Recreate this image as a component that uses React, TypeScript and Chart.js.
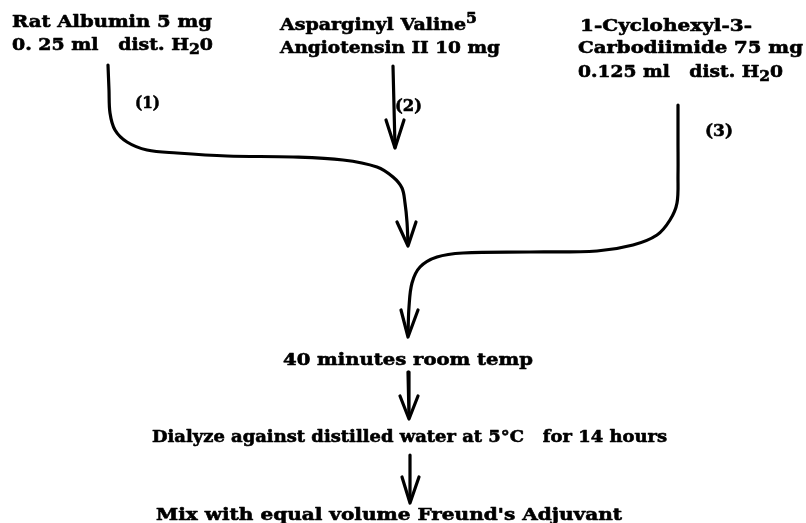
import React, { useEffect, useRef } from "react";
import { Chart, registerables } from "chart.js";
Chart.register(...registerables);

const W = 806;
const H = 523;

// Flow path 1: Rat Albumin -> mixing point
const path1X = [108, 109, 110, 115, 127, 147, 177, 227, 293, 343, 377, 393, 402, 405, 407, 408];
const path1Y = [65, 90, 113, 130, 142, 150, 153, 156, 157, 160, 167, 177, 188, 203, 222, 244];
// Flow path 2: Angiotensin (straight)
const path2X = [393, 395];
const path2Y = [66, 147];
// Flow path 3: Carbodiimide -> reaction
const path3X = [678, 678, 678, 677, 670, 657, 633, 597, 530, 463, 437, 420, 412, 409, 408];
const path3Y = [105, 140, 175, 203, 220, 235, 245, 251, 252, 253, 257, 267, 283, 307, 335];
// Lower straight steps
const step1X = [408, 409];
const step1Y = [372, 417];
const step2X = [410, 410];
const step2Y = [455, 501];

// Arrow heads: [left arm, tip, right arm]
const head1X = [397, 408, 416];
const head1Y = [222, 246, 222];
const head2X = [386, 395, 404];
const head2Y = [120, 148, 120];
const head3X = [401, 408, 418];
const head3Y = [310, 337, 310];
const head4X = [400, 409, 418];
const head4Y = [396, 419, 396];
const head5X = [402, 410, 419];
const head5Y = [477, 503, 477];

// Text content
const labelTexts = [
  "Rat Albumin 5 mg",
  "0. 25 ml   dist. H_{2}0",
  "Asparginyl Valine^{5}",
  "Angiotensin II 10 mg",
  "1-Cyclohexyl-3-",
  "Carbodiimide 75 mg",
  "0.125 ml   dist. H_{2}0",
  "(1)",
  "(2)",
  "(3)",
  "40 minutes room temp",
  "Dialyze against distilled water at 5°C   for 14 hours",
  "Mix with equal volume Freund's Adjuvant",
];
// Layout: left x, baseline y, target width (diagram units)
const labelX = [12, 12, 280, 280, 580, 578, 578, 135, 395, 705, 283, 152, 156];
const labelY = [27, 50, 30, 53, 31, 53, 77, 108, 111, 136, 365, 442, 520];
const labelW = [200, 201, 197, 220, 172, 225, 205, 25, 27, 28, 250, 515, 466];

const FONT_FAMILY = '"DejaVu Serif", serif';
const FONT_SIZE = 17;

function toPts(xs: number[], ys: number[]) {
  return xs.map((x, i) => ({ x, y: ys[i] }));
}

type Seg = { t: string; kind: "n" | "sub" | "sup" };
function parse(s: string): Seg[] {
  const out: Seg[] = [];
  const re = /([_^])\{([^}]*)\}/g;
  let last = 0;
  let m: RegExpExecArray | null;
  while ((m = re.exec(s))) {
    if (m.index > last) out.push({ t: s.slice(last, m.index), kind: "n" });
    out.push({ t: m[2], kind: m[1] === "_" ? "sub" : "sup" });
    last = m.index + m[0].length;
  }
  if (last < s.length) out.push({ t: s.slice(last), kind: "n" });
  return out;
}

const textPlugin = {
  id: "flowText",
  afterDatasetsDraw(chart: any) {
    const ctx = chart.ctx as CanvasRenderingContext2D;
    const xs = chart.scales.x;
    const ys = chart.scales.y;
    ctx.save();
    ctx.fillStyle = "#000";
    ctx.strokeStyle = "#000";
    ctx.lineJoin = "round";
    ctx.textBaseline = "alphabetic";
    ctx.textAlign = "left";
    labelTexts.forEach((txt, i) => {
      const segs = parse(txt);
      const fontFor = (k: string) =>
        `bold ${k === "n" ? FONT_SIZE : Math.round(FONT_SIZE * 0.8)}px ${FONT_FAMILY}`;
      let natural = 0;
      segs.forEach((sg) => {
        ctx.font = fontFor(sg.kind);
        natural += ctx.measureText(sg.t).width;
      });
      const x0 = xs.getPixelForValue(labelX[i]);
      const x1 = xs.getPixelForValue(labelX[i] + labelW[i]);
      const y0 = ys.getPixelForValue(labelY[i]);
      const sc = (x1 - x0) / natural;
      ctx.save();
      ctx.translate(x0, y0);
      ctx.scale(sc, 1);
      ctx.lineWidth = 0.6;
      let cx = 0;
      segs.forEach((sg) => {
        ctx.font = fontFor(sg.kind);
        const dy = sg.kind === "sub" ? 4 : sg.kind === "sup" ? -7 : 0;
        ctx.fillText(sg.t, cx, dy);
        ctx.strokeText(sg.t, cx, dy);
        cx += ctx.measureText(sg.t).width;
      });
      ctx.restore();
    });
    ctx.restore();
  },
};

export default function App() {
  const ref = useRef<HTMLCanvasElement | null>(null);
  useEffect(() => {
    if (!ref.current) return;
    const mk = (xs: number[], ys: number[], tension: number) => ({
      data: toPts(xs, ys),
      showLine: true,
      borderColor: "#000",
      backgroundColor: "#000",
      borderWidth: 3.2,
      pointRadius: 0,
      tension,
      clip: false as any,
      borderCapStyle: "round" as const,
      borderJoinStyle: "round" as const,
    });
    const chart = new Chart(ref.current, {
      type: "scatter",
      data: {
        datasets: [
          mk(path1X, path1Y, 0.35),
          mk(path2X, path2Y, 0),
          mk(path3X, path3Y, 0.35),
          mk(step1X, step1Y, 0),
          mk(step2X, step2Y, 0),
          mk(head1X, head1Y, 0),
          mk(head2X, head2Y, 0),
          mk(head3X, head3Y, 0),
          mk(head4X, head4Y, 0),
          mk(head5X, head5Y, 0),
        ],
      },
      options: {
        responsive: false,
        animation: false,
        events: [],
        layout: { padding: 0 },
        plugins: { legend: { display: false }, tooltip: { enabled: false } },
        scales: {
          x: { type: "linear", min: 0, max: W, display: false },
          y: { type: "linear", min: 0, max: H, reverse: true, display: false },
        },
      },
      plugins: [textPlugin],
    });
    return () => chart.destroy();
  }, []);
  return (
    <div style={{ position: "fixed", left: 0, top: 0, width: W, height: H, background: "#fff" }}>
      <canvas ref={ref} width={W} height={H} style={{ display: "block", width: W, height: H }} />
    </div>
  );
}
